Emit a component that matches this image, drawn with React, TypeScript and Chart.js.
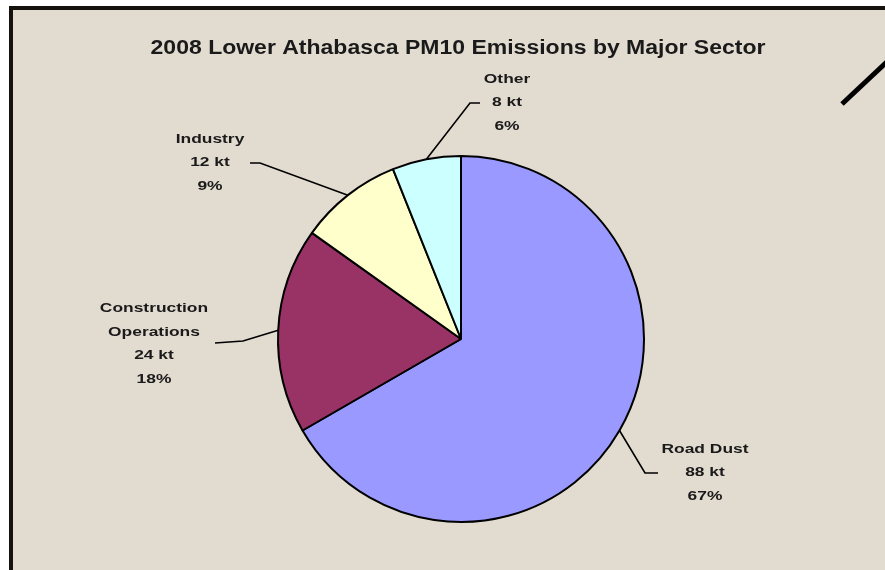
import React, { useEffect, useRef } from 'react';
import { Chart, registerables } from 'chart.js';

Chart.register(...registerables);

const TITLE = '2008 Lower Athabasca PM10 Emissions by Major Sector';
const categories = ['Road Dust', 'Construction Operations', 'Industry', 'Other'];
const labelLines = [['Road Dust'], ['Construction', 'Operations'], ['Industry'], ['Other']];
const emissionsKt = [88, 24, 12, 8];
const sliceColors = ['#9999FF', '#993366', '#FFFFCC', '#CCFFFF'];

// label layout: block centre and leader bend/end points (canvas px)
const labelLayout = [
  { cx: 705, cy: 473, bend: [645, 473], end: [658, 473] },
  { cx: 154, cy: 344, bend: [243, 341], end: [215, 343] },
  { cx: 210, cy: 163, bend: [260, 163], end: [250, 163] },
  { cx: 507, cy: 103, bend: [470, 103], end: [480, 103] },
];

const BG = '#E2DBD0';
const TEXT = '#1a1a1a';
const LABEL_FONT = 'bold 12px "Liberation Sans", Arial, sans-serif';
const TITLE_FONT = 'bold 20px "Liberation Sans", Arial, sans-serif';
const LINE_H = 23.5;

function stretchedText(ctx: CanvasRenderingContext2D, text: string, x: number, y: number, sx: number) {
  ctx.save();
  ctx.translate(x, y);
  ctx.scale(sx, 1);
  ctx.textAlign = 'center';
  ctx.textBaseline = 'middle';
  ctx.fillText(text, 0, 0);
  ctx.restore();
}

const decorPlugin = {
  id: 'decor',
  beforeDraw(chart: any) {
    const { ctx, width, height } = chart;
    ctx.save();
    ctx.fillStyle = '#ffffff';
    ctx.fillRect(0, 0, width, height);
    ctx.fillStyle = BG;
    ctx.fillRect(10, 7, width - 10, height - 7);
    ctx.fillStyle = '#15110d';
    ctx.fillRect(9, 6, width - 9, 4);
    ctx.fillRect(9, 6, 4, height - 6);
    ctx.restore();
  },
  afterDraw(chart: any) {
    const { ctx } = chart;
    const meta = chart.getDatasetMeta(0);
    const data = chart.data.datasets[0].data as number[];
    const total = data.reduce((a, b) => a + b, 0);
    ctx.save();
    // title
    ctx.fillStyle = TEXT;
    ctx.font = TITLE_FONT;
    stretchedText(ctx, TITLE, 458, 48, 1.15);

    // leaders + labels
    ctx.font = LABEL_FONT;
    meta.data.forEach((arc: any, i: number) => {
      const p = arc.getProps(['x', 'y', 'startAngle', 'endAngle', 'outerRadius'], true);
      const mid = (p.startAngle + p.endAngle) / 2;
      const ax = p.x + Math.cos(mid) * p.outerRadius;
      const ay = p.y + Math.sin(mid) * p.outerRadius;
      const L = labelLayout[i];
      ctx.strokeStyle = '#000';
      ctx.lineWidth = 1.6;
      ctx.beginPath();
      ctx.moveTo(ax, ay);
      ctx.lineTo(L.bend[0], L.bend[1]);
      ctx.lineTo(L.end[0], L.end[1]);
      ctx.stroke();

      const lines = [...labelLines[i], `${data[i]} kt`, `${Math.round((data[i] / total) * 100)}%`];
      const top = L.cy - ((lines.length - 1) * LINE_H) / 2;
      ctx.fillStyle = TEXT;
      lines.forEach((t, k) => stretchedText(ctx, t, L.cx, top + k * LINE_H, 1.45));
    });

    // diagonal stroke at top right
    ctx.strokeStyle = '#000';
    ctx.lineWidth = 5;
    ctx.lineCap = 'butt';
    ctx.beginPath();
    ctx.moveTo(842, 104);
    ctx.lineTo(890, 59);
    ctx.stroke();
    ctx.restore();
  },
};

export default function App() {
  const ref = useRef<HTMLCanvasElement>(null);
  useEffect(() => {
    if (!ref.current) return;
    const chart = new Chart(ref.current, {
      type: 'pie',
      data: {
        labels: categories,
        datasets: [
          {
            data: emissionsKt,
            backgroundColor: sliceColors,
            borderColor: '#000000',
            borderWidth: 2,
            hoverOffset: 0,
            offset: 0,
          } as any,
        ],
      },
      options: {
        responsive: false,
        animation: false,
        radius: 183,
        layout: { padding: { left: 37, right: 0, top: 108, bottom: 0 } },
        plugins: {
          legend: { display: false },
          tooltip: { enabled: false },
          title: { display: false },
        },
      } as any,
      plugins: [decorPlugin],
    });
    return () => chart.destroy();
  }, []);
  return (
    <div style={{ position: 'absolute', left: 0, top: 0, width: 885, height: 570 }}>
      <canvas ref={ref} width={885} height={570} />
    </div>
  );
}
